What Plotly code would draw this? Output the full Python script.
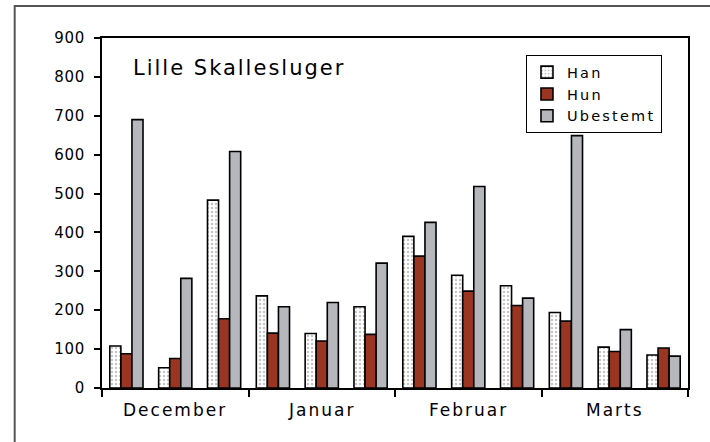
import plotly.graph_objects as go

months = ["December", "Januar", "Februar", "Marts"]
series_names = ["Han", "Hun", "Ubestemt"]
han = [108, 52, 483, 237, 140, 209, 390, 290, 263, 194, 105, 85]
hun = [88, 76, 178, 141, 121, 138, 339, 249, 212, 172, 94, 103]
ubestemt = [690, 282, 608, 209, 220, 321, 426, 518, 231, 649, 150, 82]
y_ticks = [0, 100, 200, 300, 400, 500, 600, 700, 800, 900]
title_text = "Lille Skallesluger"

x = list(range(len(han)))
FONT = "DejaVu Sans"


def spaced(s, px):
    return f'<span style="letter-spacing:{px}px">{s}</span>'


fig = go.Figure()
fig.add_trace(go.Bar(
    x=x, y=han, name=spaced(series_names[0], 2.2),
    marker=dict(color="white", line=dict(color="black", width=1.6),
                pattern=dict(shape=".", fgcolor="#8a8a8a", bgcolor="white", size=4, solidity=0.3)),
))
fig.add_trace(go.Bar(
    x=x, y=hun, name=spaced(series_names[1], 2.2),
    marker=dict(color="#993520", line=dict(color="black", width=1.6)),
))
fig.add_trace(go.Bar(
    x=x, y=ubestemt, name=spaced(series_names[2], 2.2),
    marker=dict(color="#b5b7bc", line=dict(color="black", width=1.6)),
))

n = len(han)
per = n // len(months)
for i, m in enumerate(months):
    fig.add_annotation(x=i * per + (per - 1) / 2, y=-0.063, xref="x", yref="paper",
                       text=spaced(m, 2), showarrow=False,
                       font=dict(family=FONT, size=17, color="black"),
                       yanchor="middle")

fig.add_annotation(x=0.05, y=0.915, xref="paper", yref="paper", xanchor="left", yanchor="middle",
                   text=spaced(title_text, 2), showarrow=False,
                   font=dict(family=FONT, size=21, color="black"))

# outer frame
fig.add_shape(type="rect", xref="paper", yref="paper",
              x0=-0.149, x1=1.06, y0=-0.2, y1=1.0914,
              line=dict(color="#555555", width=2), fillcolor="rgba(0,0,0,0)", layer="below")

fig.update_layout(
    width=710, height=442,
    margin=dict(l=102, r=22, t=38, b=54),
    paper_bgcolor="white", plot_bgcolor="white",
    barmode="group", bargap=0.32, bargroupgap=0,
    font=dict(family=FONT, size=14, color="black"),
    legend=dict(x=0.9556, y=0.951, xanchor="right", yanchor="top",
                bordercolor="black", borderwidth=1, bgcolor="white",
                font=dict(family=FONT, size=14.5), tracegroupgap=0,
                itemwidth=30),
    showlegend=True,
)
fig.update_xaxes(range=[-0.5, n - 0.5], showgrid=False, zeroline=False,
                 tickmode="array", tickvals=[i * per - 0.5 for i in range(len(months) + 1)],
                 ticktext=[""] * (len(months) + 1),
                 ticks="outside", ticklen=7, tickwidth=2, tickcolor="black",
                 showline=True, linecolor="black", linewidth=2, mirror=True)
fig.update_yaxes(range=[0, 900], showgrid=False, zeroline=False,
                 tickmode="array", tickvals=y_ticks,
                 ticktext=[spaced(str(v), 0.7) for v in y_ticks],
                 ticks="outside", ticklen=6, tickwidth=2, tickcolor="black",
                 showline=True, linecolor="black", linewidth=2, mirror=True,
                 tickfont=dict(family=FONT, size=15), ticklabelstandoff=6)

fig.write_html("out.html", config={"displayModeBar": False},
               post_script="document.body.style.margin='0';")
